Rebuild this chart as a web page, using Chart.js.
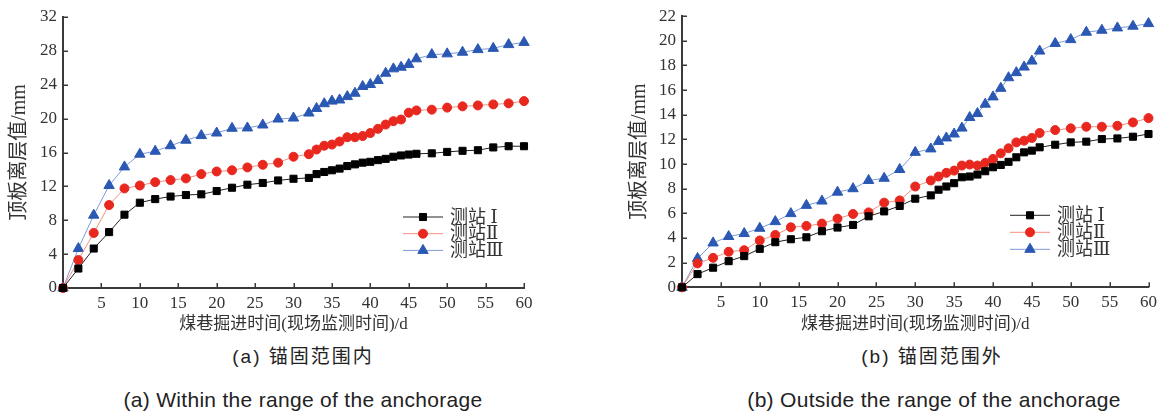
<!DOCTYPE html>
<html><head><meta charset="utf-8">
<script src="https://cdn.jsdelivr.net/npm/chart.js@4.4.1/dist/chart.umd.min.js"></script>
<style>
html,body{margin:0;padding:0;background:#fff;width:1162px;height:412px;overflow:hidden;position:relative;}
.wrap{position:absolute;top:0;width:581px;height:340px;}
.cap{position:absolute;transform:translateX(-50%);white-space:nowrap;font-family:'Liberation Sans','Noto Sans CJK SC',sans-serif;color:#222;line-height:1;}
</style></head><body>
<div class="wrap" style="left:0"><canvas id="ca" width="581" height="340"></canvas></div>
<div class="wrap" style="left:581px"><canvas id="cb" width="581" height="340"></canvas></div>
<div class="cap" style="left:303px;top:347px;font-size:19px;letter-spacing:2px">(a) 锚固范围内</div>
<div class="cap" style="left:303px;top:389px;font-size:21px;letter-spacing:0.3px">(a) Within the range of the anchorage</div>
<div class="cap" style="left:932px;top:347px;font-size:19px;letter-spacing:2px">(b) 锚固范围外</div>
<div class="cap" style="left:934px;top:389px;font-size:21px;letter-spacing:0.3px">(b) Outside the range of the anchorage</div>
<script>
// Monitoring days (x values)
const days = [0,2,4,6,8,10,12,14,16,18,20,22,24,26,28,30,32,33,34,35,36,37,38,39,40,41,42,43,44,45,46,48,50,52,54,56,58,60];
const seriesNames = ['测站 Ⅰ','测站Ⅱ','测站Ⅲ'];
const xTicks = [0,5,10,15,20,25,30,35,40,45,50,55,60];
const yTicksA = [0,4,8,12,16,20,24,28,32];
const yTicksB = [0,2,4,6,8,10,12,14,16,18,20,22];
const yTitle = '顶板离层值/mm';
const xTitle = '煤巷掘进时间(现场监测时间)/d';

// (a) within anchorage range
const a1 = [0,2.3,4.66,6.6,8.66,10.07,10.5,10.8,10.98,11.06,11.45,11.84,12.2,12.4,12.7,12.9,13.0,13.45,13.7,13.9,14.1,14.4,14.6,14.8,14.9,15.1,15.25,15.5,15.65,15.76,15.85,15.9,16.07,16.2,16.27,16.6,16.74,16.74];
const a2 = [0,3.3,6.5,9.8,11.76,12.1,12.5,12.74,12.94,13.45,13.76,13.9,14.24,14.55,14.8,15.5,15.8,16.35,16.8,16.94,17.3,17.8,17.8,17.95,18.3,18.8,19.3,19.7,19.9,20.7,20.97,21.06,21.3,21.45,21.56,21.68,21.8,22.07];
const a3 = [0,4.66,8.6,12.1,14.3,15.8,16.15,16.8,17.45,18.0,18.3,18.86,18.9,19.25,19.95,20.07,20.66,21.2,21.76,22.07,22.2,22.6,23.0,23.8,24.03,24.5,25.36,25.88,26.07,26.4,27.06,27.56,27.65,27.84,28.15,28.3,28.74,29.0];
// (b) outside anchorage range
const b1 = [0,1.07,1.59,2.12,2.53,3.12,3.66,3.9,4.06,4.55,4.85,5.06,5.76,6.16,6.6,7.19,7.46,7.92,8.18,8.45,8.93,8.99,9.15,9.42,9.74,9.93,10.18,10.55,10.95,11.09,11.36,11.57,11.76,11.82,12.03,12.08,12.22,12.44];
const b2 = [0,1.94,2.39,2.88,3.01,3.8,4.25,4.87,4.98,5.17,5.57,5.95,6.08,6.87,7.05,8.18,8.67,8.99,9.29,9.47,9.88,9.96,9.88,10.1,10.42,10.87,11.28,11.76,11.9,12.12,12.52,12.76,12.9,13.03,13.03,13.11,13.38,13.73];
const b3 = [0,2.34,3.6,4.12,4.36,4.79,5.33,5.98,6.65,7.0,7.72,8.0,8.67,8.85,9.56,10.95,11.23,11.84,12.12,12.44,12.92,13.78,14.1,14.86,15.45,16.15,17.01,17.42,17.87,18.36,19.17,19.79,20.1,20.7,20.86,21.05,21.19,21.4];

const SERIF = "'Liberation Serif','DejaVu Serif','Noto Sans CJK SC',serif";
Chart.defaults.font.family = SERIF;
Chart.defaults.color = '#333';

const styles = [
  {line:'#222222', pt:'#000000', shape:'rect', r:5},
  {line:'#f3907e', pt:'#e8281f', shape:'circle', r:4.5},
  {line:'#7e9ad8', pt:'#2a58b3', shape:'triangle', r:6}
];
const AXIS = '#3a3a3a';

const innerTicks = {
  id:'innerTicks',
  beforeDatasetsDraw(chart){
    const {ctx, chartArea:a, scales:{x,y}} = chart;
    ctx.save(); ctx.strokeStyle = AXIS; ctx.lineWidth = 1.5;
    x.ticks.forEach(t=>{ if(t.value===0) return; const p=Math.round(x.getPixelForValue(t.value))+0.25;
      ctx.beginPath(); ctx.moveTo(p,a.bottom); ctx.lineTo(p,a.bottom-5); ctx.stroke(); });
    y.ticks.forEach(t=>{ if(t.value===0) return; const p=Math.round(y.getPixelForValue(t.value))+0.25;
      ctx.beginPath(); ctx.moveTo(a.left,p); ctx.lineTo(a.left+5,p); ctx.stroke(); });
    ctx.restore();
  }
};
const innerLegend = {
  id:'innerLegend',
  afterDatasetsDraw(chart, args, opts){
    const ctx = chart.ctx; const a = chart.chartArea;
    const x0 = a.right - opts.fromRight, y0 = a.bottom - opts.fromBottom;
    ctx.save();
    chart.data.datasets.forEach((ds,i)=>{
      const yy = y0 + i*opts.dy;
      ctx.strokeStyle = ds.borderColor; ctx.lineWidth = 1;
      ctx.beginPath(); ctx.moveTo(x0,yy); ctx.lineTo(x0+40,yy); ctx.stroke();
      ctx.fillStyle = ds.pointBackgroundColor; ctx.strokeStyle = ds.pointBackgroundColor;
      Chart.helpers.drawPoint(ctx,{pointStyle:ds.pointStyle,radius:ds.pointRadius,rotation:0,borderWidth:1},x0+20,yy);
      ctx.fillStyle = '#333'; ctx.font = '18px '+SERIF; ctx.textBaseline='middle'; ctx.textAlign='left';
      ctx.fillText(ds.label, x0+47, yy+1);
    });
    ctx.restore();
  }
};

function makeChart(id, vals, yTicks, pad, xH, yTitlePad, legendOpt){
  const datasets = vals.map((v,i)=>({
    label: seriesNames[i],
    data: days.map((d,k)=>({x:d, y:v[k]})),
    borderColor: styles[i].line, borderWidth: 1,
    pointStyle: styles[i].shape, pointRadius: styles[i].r,
    pointBackgroundColor: styles[i].pt, pointBorderColor: styles[i].pt, pointBorderWidth: 1,
    tension: 0, clip: false, fill: false
  }));
  return new Chart(document.getElementById(id), {
    type:'line',
    data:{datasets},
    options:{
      responsive:false, animation:false, devicePixelRatio:1, events:[],
      layout:{padding:pad},
      plugins:{legend:{display:false}, tooltip:{enabled:false},
        innerLegend: legendOpt},
      scales:{
        x:{type:'linear', min:xTicks[0], max:xTicks[xTicks.length-1],
          afterBuildTicks(s){ s.ticks = xTicks.map(v=>({value:v})); },
          afterFit(s){ s.height = xH; },
          grid:{display:false, drawTicks:false}, border:{display:true,color:AXIS,width:2},
          ticks:{padding:5, font:{size:17}, color:'#333', callback:v=> v===0?'':v, maxRotation:0, autoSkip:false},
          title:{display:true, text:xTitle, font:{size:17}, color:'#333', padding:{top:0,bottom:5}}
        },
        y:{type:'linear', min:yTicks[0], max:yTicks[yTicks.length-1],
          afterBuildTicks(s){ s.ticks = yTicks.map(v=>({value:v})); },
          afterFit(s){ s.width = 63; },
          grid:{display:false, drawTicks:false}, border:{display:true,color:AXIS,width:2},
          ticks:{padding:6, font:{size:17}, color:'#333', autoSkip:false},
          title:{display:true, text:yTitle, font:{size:20}, color:'#333', padding:{top:yTitlePad,bottom:0}}
        }
      }
    },
    plugins:[innerTicks, innerLegend]
  });
}

makeChart('ca', [a1,a2,a3], yTicksA, {left:0,right:57,top:17,bottom:0}, 52, 8, 
  {fromRight:121, fromBottom:71, dy:16.7});
makeChart('cb', [b1,b2,b3], yTicksB, {left:38,right:13.5,top:15,bottom:0}, 52.7, 9,
  {fromRight:138.5, fromBottom:72, dy:17});
</script>
</body></html>
